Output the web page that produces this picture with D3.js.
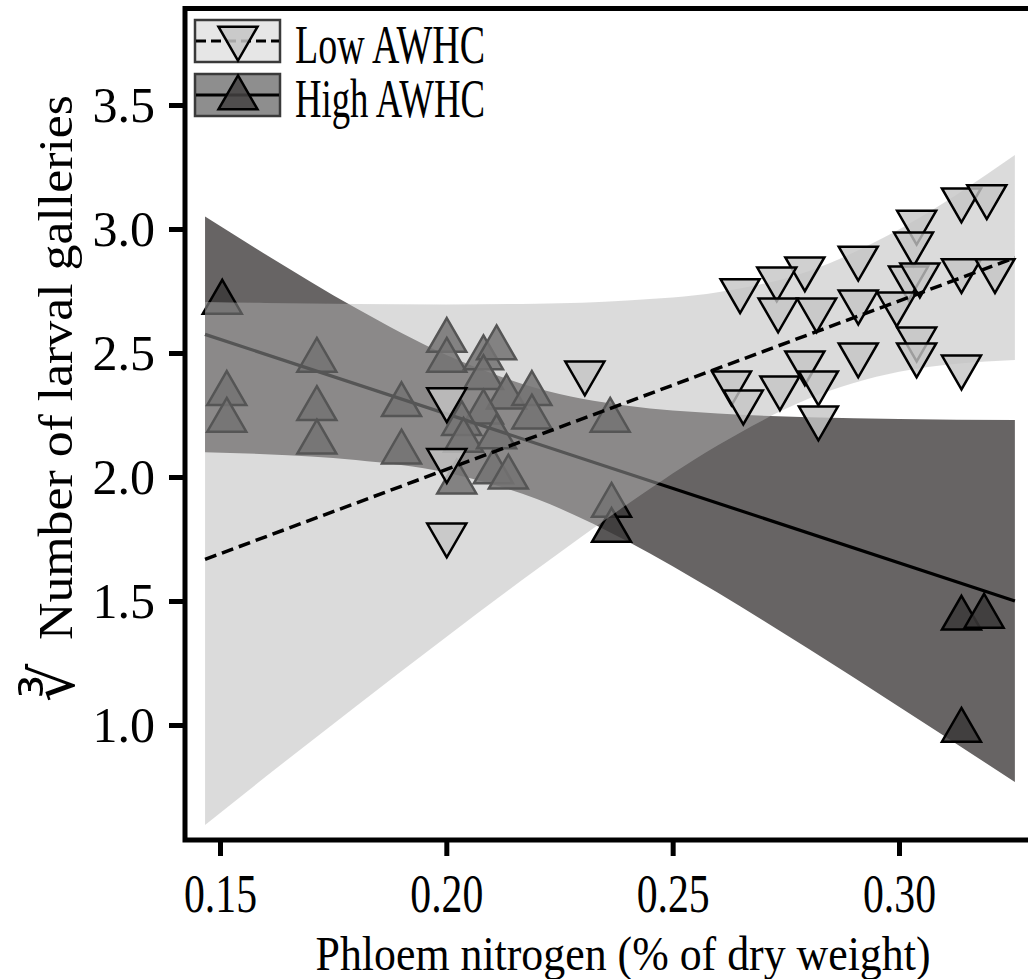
<!DOCTYPE html>
<html>
<head>
<meta charset="utf-8">
<script src="https://cdn.jsdelivr.net/npm/d3@7"></script>
<style>
  html, body { margin: 0; padding: 0; background: #ffffff; }
  svg { display: block; }
  text { font-family: "Liberation Serif", "Times New Roman", serif; fill: #000; }
</style>
</head>
<body>
<svg id="chart" width="1028" height="979"></svg>
<script>
// ---------------- data ----------------
const xTicks = [0.15, 0.20, 0.25, 0.30];
const yTicks = [1.0, 1.5, 2.0, 2.5, 3.0, 3.5];
const xTickLabels = ["0.15", "0.20", "0.25", "0.30"];
const yTickLabels = ["1.0", "1.5", "2.0", "2.5", "3.0", "3.5"];
const xTitle = "Phloem nitrogen (% of dry weight)";
const yTitle = "Number of larval galleries";
const seriesNames = ["Low AWHC", "High AWHC"];

// Low AWHC observations (x = phloem N, y = cube root of galleries)
const lowX = [0.3138, 0.3194, 0.3039, 0.3032, 0.2910, 0.2792, 0.2730, 0.2649,
              0.3138, 0.3212, 0.3021, 0.3046, 0.2910, 0.2995, 0.2733, 0.2818,
              0.3039, 0.3039, 0.2910, 0.3138, 0.2792, 0.2822, 0.2737, 0.2630,
              0.2656, 0.2822, 0.2001, 0.2001, 0.2001, 0.2306];
const lowY = [3.118, 3.131, 3.028, 2.940, 2.883, 2.840, 2.799, 2.752,
              2.833, 2.833, 2.803, 2.815, 2.706, 2.698, 2.674, 2.674,
              2.557, 2.493, 2.493, 2.444, 2.461, 2.380, 2.360, 2.380,
              2.303, 2.239, 2.312, 2.067, 1.767, 2.420];

// High AWHC observations
const highX = [0.1505, 0.1515, 0.1515, 0.1714, 0.1714, 0.1714, 0.1901, 0.1901,
               0.2001, 0.2001, 0.2082, 0.2111, 0.2082, 0.2133, 0.2189, 0.2189,
               0.2082, 0.2034, 0.2038, 0.2111, 0.2104, 0.2137, 0.2023, 0.2362,
               0.2365, 0.2365, 0.3138, 0.3188, 0.3138];
const highY = [2.704, 2.336, 2.228, 2.470, 2.275, 2.140, 2.291, 2.100,
               2.550, 2.470, 2.480, 2.520, 2.400, 2.322, 2.336, 2.241,
               2.261, 2.215, 2.147, 2.161, 2.020, 1.999, 1.979, 2.228,
               1.885, 1.784, 1.430, 1.438, 0.978];

// fitted lines (ends) and 95% confidence bands
const lowFitX = [0.1467, 0.3256];
const lowFitY = [1.668, 2.884];
const highFitX = [0.1467, 0.3256];
const highFitY = [2.575, 1.500];

const bandX = [0.1467, 0.16, 0.18, 0.20, 0.22, 0.24, 0.26, 0.28, 0.30, 0.3256];
const lowBandLower = [0.597, 0.790, 1.075, 1.355, 1.628, 1.890, 2.128, 2.315, 2.424, 2.472];
const lowBandUpper = [2.706, 2.702, 2.698, 2.696, 2.699, 2.712, 2.745, 2.830, 2.998, 3.298];
const highBandLower = [2.100, 2.092, 2.069, 2.018, 1.911, 1.741, 1.533, 1.307, 1.074, 0.770];
const highBandUpper = [3.050, 2.898, 2.681, 2.492, 2.358, 2.287, 2.256, 2.241, 2.234, 2.230];

// ---------------- drawing ----------------
const svg = d3.select("#chart");
const L = 185, T = 8.5, B = 840, R = 1040;

const x = d3.scaleLinear().domain([0.14227, 0.33115]).range([L, R]);
const y = d3.scaleLinear().domain([0.5363, 3.889]).range([B, T]);

svg.append("defs").append("clipPath").attr("id", "clip")
  .append("rect").attr("x", L).attr("y", T).attr("width", R - L).attr("height", B - T);

const plot = svg.append("g").attr("clip-path", "url(#clip)");

const area = (lo, hi) => d3.area()
  .x((d, i) => x(bandX[i]))
  .y0((d, i) => y(lo[i]))
  .y1((d, i) => y(hi[i]))
  .curve(d3.curveMonotoneX)(bandX);

const line = (xs, ys) => d3.line().x((d, i) => x(xs[i])).y((d, i) => y(ys[i]))(xs);

const triUp = d3.symbol().type(d3.symbolTriangle).size(660)();

// High layers first
plot.append("path").attr("d", area(highBandLower, highBandUpper))
  .attr("fill", "#676464");
plot.append("g").selectAll("path").data(highX).join("path")
  .attr("d", triUp)
  .attr("transform", (d, i) => `translate(${x(highX[i])},${y(highY[i])})`)
  .attr("fill", "#3b3838").attr("fill-opacity", 0.85)
  .attr("stroke", "#000").attr("stroke-width", 2.5);
plot.append("path").attr("d", line(highFitX, highFitY))
  .attr("fill", "none").attr("stroke", "#000").attr("stroke-width", 3.2);

// Low layers on top
plot.append("path").attr("d", area(lowBandLower, lowBandUpper))
  .attr("fill", "#b3b3b3").attr("fill-opacity", 0.474);
plot.append("g").selectAll("path").data(lowX).join("path")
  .attr("d", triUp)
  .attr("transform", (d, i) => `translate(${x(lowX[i])},${y(lowY[i])}) rotate(180)`)
  .attr("fill", "#c4c4c4").attr("fill-opacity", 0.8)
  .attr("stroke", "#000").attr("stroke-width", 2.5);
plot.append("path").attr("d", line(lowFitX, lowFitY))
  .attr("fill", "none").attr("stroke", "#000").attr("stroke-width", 3.5)
  .attr("stroke-dasharray", "12,6");

// frame
svg.append("rect").attr("x", L).attr("y", T).attr("width", R - L + 20).attr("height", B - T)
  .attr("fill", "none").attr("stroke", "#000").attr("stroke-width", 5);

// axes
const yAxis = svg.append("g").attr("transform", `translate(${L},0)`)
  .call(d3.axisLeft(y).tickValues(yTicks).tickSize(16).tickPadding(14)
    .tickFormat((d, i) => yTickLabels[i]));
yAxis.select(".domain").remove();
yAxis.selectAll(".tick line").attr("stroke", "#000").attr("stroke-width", 5);
yAxis.selectAll(".tick text").attr("font-size", 50).attr("font-family", "Liberation Serif")
  .attr("dy", "0.34em");

const xAxis = svg.append("g").attr("transform", `translate(0,${B})`)
  .call(d3.axisBottom(x).tickValues(xTicks).tickSize(16).tickPadding(18)
    .tickFormat((d, i) => xTickLabels[i]));
xAxis.select(".domain").remove();
xAxis.selectAll(".tick line").attr("stroke", "#000").attr("stroke-width", 5);
xAxis.selectAll(".tick text").attr("font-size", 54).attr("font-family", "Liberation Serif")
  .attr("textLength", 73).attr("lengthAdjust", "spacingAndGlyphs").attr("dy", "0.71em");

// axis titles
svg.append("text").attr("x", 623).attr("y", 970).attr("text-anchor", "middle")
  .attr("font-size", 48).attr("textLength", 615).attr("lengthAdjust", "spacingAndGlyphs")
  .text(xTitle);

svg.append("text").attr("transform", "translate(72,640) rotate(-90)")
  .attr("text-anchor", "start").attr("font-size", 48)
  .attr("textLength", 545).attr("lengthAdjust", "spacingAndGlyphs")
  .text(yTitle);
svg.append("text").attr("transform", "translate(74,702) rotate(-90)")
  .attr("text-anchor", "start").attr("font-size", 60)
  .attr("font-family", "DejaVu Serif")
  .text("\u221B");

// legend
const keys = [
  { name: seriesNames[0], y: 20, fill: "#e6e6e6", dash: "10,5", tri: "down", tfill: "#c4c4c4" },
  { name: seriesNames[1], y: 74, fill: "#8e8e8e", dash: null, tri: "up", tfill: "#444242" }
];
const lg = svg.append("g");
keys.forEach(k => {
  const g = lg.append("g");
  g.append("rect").attr("x", 195).attr("y", k.y).attr("width", 85).attr("height", 42)
    .attr("fill", k.fill).attr("stroke", "#3a3a3a").attr("stroke-width", 2.5);
  g.append("line").attr("x1", 196).attr("x2", 279).attr("y1", k.y + 21).attr("y2", k.y + 21)
    .attr("stroke", "#000").attr("stroke-width", 3)
    .attr("stroke-dasharray", k.dash);
  g.append("path").attr("d", triUp)
    .attr("transform", `translate(238,${k.y + 21 + (k.tri === "down" ? -3 : 3)}) rotate(${k.tri === "down" ? 180 : 0})`)
    .attr("fill", k.tfill).attr("fill-opacity", 0.85)
    .attr("stroke", "#000").attr("stroke-width", 2.5);
  g.append("text").attr("x", 295).attr("y", k.y + 43).attr("font-size", 54)
    .attr("textLength", 190).attr("lengthAdjust", "spacingAndGlyphs")
    .text(k.name);
});
</script>
</body>
</html>
